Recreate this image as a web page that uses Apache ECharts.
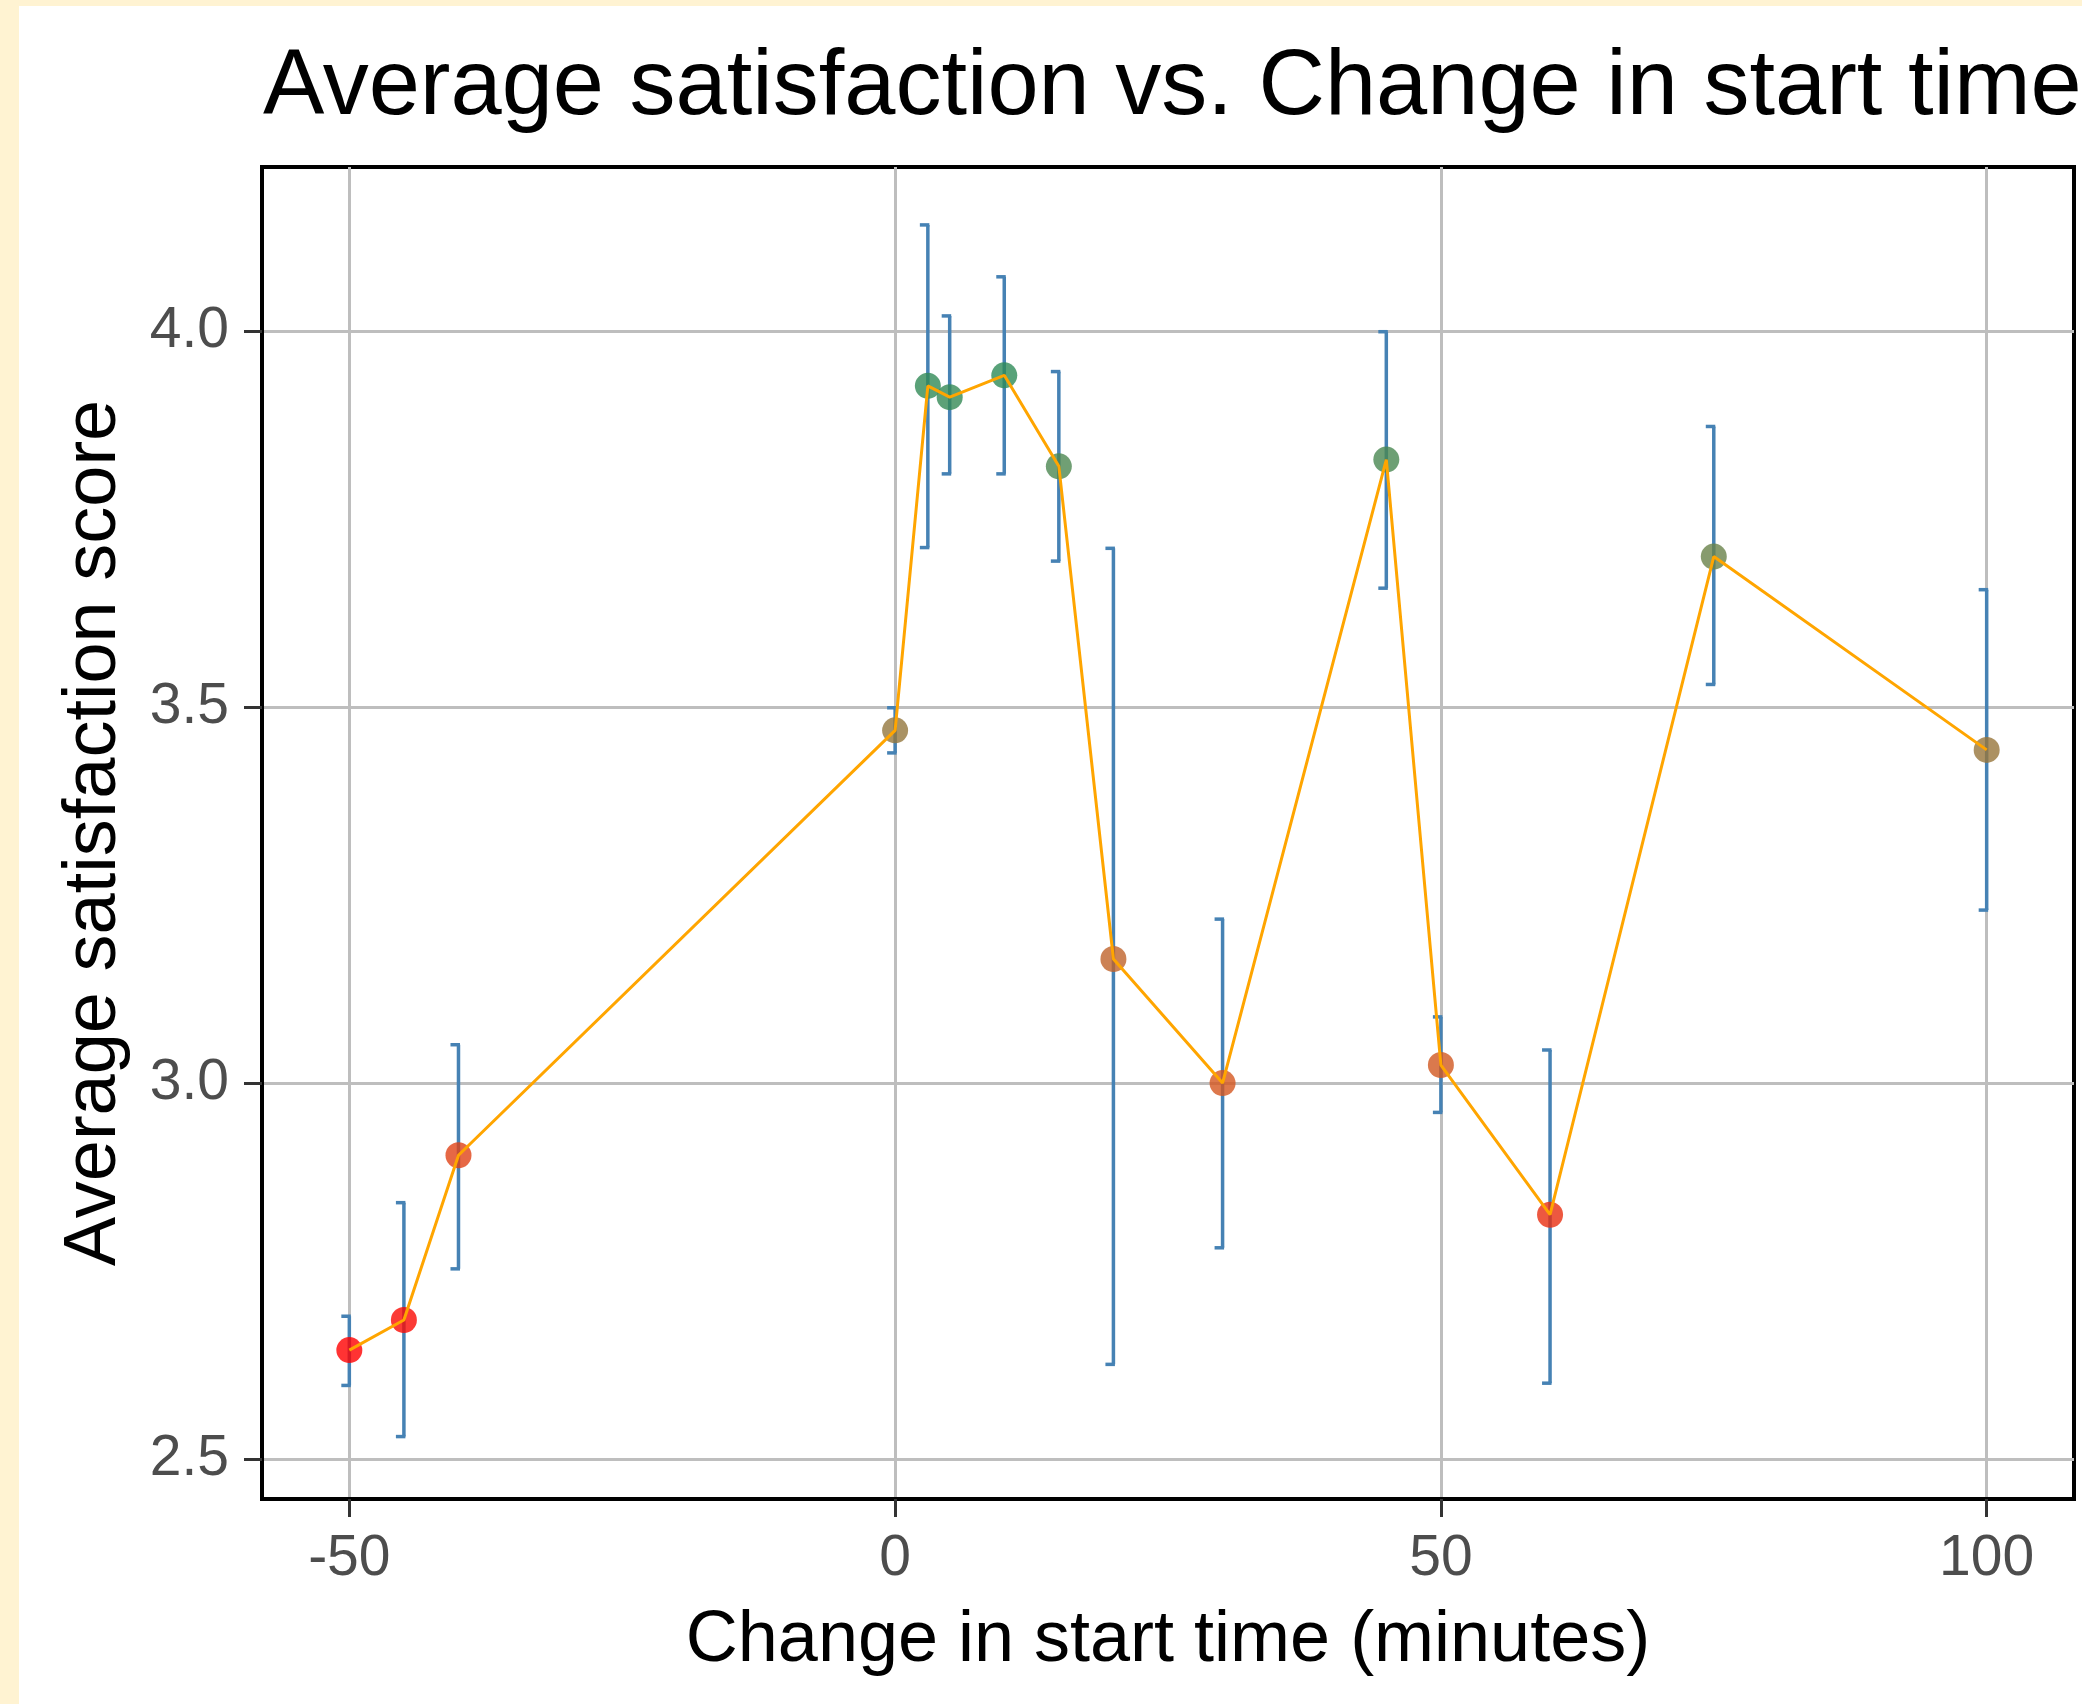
<!DOCTYPE html>
<html>
<head>
<meta charset="utf-8">
<title>Average satisfaction vs. Change in start time</title>
<script src="https://cdn.jsdelivr.net/npm/echarts@6/dist/echarts.min.js"></script>
<style>
  html, body { margin: 0; padding: 0; background: #ffffff; }
  #chart { width: 2082px; height: 1704px; }
</style>
</head>
<body>
<div id="chart"></div>
<script>
// Change in start time (minutes)
const startChange = [-50, -45, -40, 0, 3, 5, 10, 15, 20, 30, 45, 50, 60, 75, 100];
// Average satisfaction score at each change
const avgScore = [2.645, 2.685, 2.904, 3.469, 3.927, 3.912, 3.941, 3.820, 3.165, 3.000, 3.829, 3.024, 2.825, 3.700, 3.443];
// Error bar limits
const scoreLow  = [2.598, 2.530, 2.753, 3.439, 3.712, 3.810, 3.810, 3.694, 2.626, 2.781, 3.658, 2.961, 2.601, 3.530, 3.230];
const scoreHigh = [2.690, 2.841, 3.051, 3.499, 4.141, 4.020, 4.072, 3.946, 3.711, 3.218, 3.999, 3.088, 3.044, 3.873, 3.656];
// Axis tick values
const xTicks = [-50, 0, 50, 100];
const yTicks = [2.5, 3.0, 3.5, 4.0];

const FONT = 'Liberation Sans, Arial, sans-serif';

const points = startChange.map((x, i) => [x, avgScore[i]]);
const bars = startChange.map((x, i) => [x, scoreLow[i], scoreHigh[i]]);

const chart = echarts.init(document.getElementById('chart'), null, { renderer: 'canvas' });

chart.setOption({
  backgroundColor: '#ffffff',
  animation: false,
  textStyle: { fontFamily: FONT },
  graphic: [
    { type: 'rect', left: 0, top: 0, shape: { width: 19, height: 1704 }, style: { fill: '#FFF3D2' }, silent: true, z: -10 },
    { type: 'rect', left: 0, top: 0, shape: { width: 2082, height: 6 }, style: { fill: '#FFF3D2' }, silent: true, z: -10 }
  ],
  title: {
    text: 'Average satisfaction vs. Change in start time',
    left: 258,
    top: 38,
    textStyle: { fontFamily: FONT, fontSize: 92, fontWeight: 'normal', color: '#000000' }
  },
  grid: {
    left: 262, top: 167, right: 8, bottom: 205,
    show: true, borderColor: '#000000', borderWidth: 4, backgroundColor: 'transparent'
  },
  xAxis: {
    type: 'value',
    position: 'bottom',
    min: -58, max: 108,
    name: 'Change in start time (minutes)',
    nameLocation: 'middle',
    nameGap: 106,
    nameTextStyle: { fontFamily: FONT, fontSize: 72, color: '#000000' },
    axisLine: { show: true, onZero: false, lineStyle: { color: '#000000', width: 4 } },
    axisTick: { show: true, inside: false, length: 18, customValues: xTicks, lineStyle: { color: '#333333', width: 3 } },
    axisLabel: { customValues: xTicks, margin: 32, fontFamily: FONT, fontSize: 57, color: '#4D4D4D' },
    splitLine: { show: true, lineStyle: { color: '#BEBEBE', width: 3 } }
  },
  yAxis: {
    type: 'value',
    position: 'left',
    min: 2.447, max: 4.218,
    name: 'Average satisfaction score',
    nameLocation: 'middle',
    nameGap: 130,
    nameTextStyle: { fontFamily: FONT, fontSize: 74, color: '#000000' },
    axisLine: { show: true, onZero: false, lineStyle: { color: '#000000', width: 4 } },
    axisTick: { show: true, inside: false, length: 18, customValues: yTicks, lineStyle: { color: '#333333', width: 3 } },
    axisLabel: { customValues: yTicks, margin: 33, fontFamily: FONT, fontSize: 57, color: '#4D4D4D',
                 formatter: v => v.toFixed(1) },
    splitLine: { show: true, lineStyle: { color: '#BEBEBE', width: 3 } }
  },
  visualMap: {
    type: 'continuous',
    show: false,
    seriesIndex: 1,
    dimension: 1,
    min: Math.min(...avgScore),
    max: Math.max(...avgScore),
    inRange: { color: ['#FF0000', '#D8531D', '#AE6E32', '#7D7F46', '#2E8B57'] }
  },
  series: [
    {
      type: 'custom',
      name: 'error bars',
      data: bars,
      encode: { x: 0, y: [1, 2] },
      z: 1,
      silent: true,
      renderItem: (params, api) => {
        const x = api.value(0);
        const lo = api.coord([x, api.value(1)]);
        const hi = api.coord([x, api.value(2)]);
        const style = { stroke: '#4682B4', lineWidth: 3.5, fill: null };
        return {
          type: 'group',
          children: [
            { type: 'line', shape: { x1: lo[0], y1: lo[1], x2: hi[0], y2: hi[1] }, style },
            { type: 'line', shape: { x1: hi[0] - 8, y1: hi[1], x2: hi[0] + 1.5, y2: hi[1] }, style },
            { type: 'line', shape: { x1: lo[0] - 8, y1: lo[1], x2: lo[0] + 1.5, y2: lo[1] }, style }
          ]
        };
      }
    },
    {
      type: 'scatter',
      name: 'mean score',
      data: points,
      symbol: 'circle',
      symbolSize: 26,
      z: 2,
      silent: true
    },
    {
      type: 'line',
      name: 'trend',
      data: points,
      showSymbol: false,
      symbol: 'none',
      lineStyle: { color: '#FFA500', width: 3 },
      z: 3,
      silent: true
    }
  ]
});
</script>
</body>
</html>
